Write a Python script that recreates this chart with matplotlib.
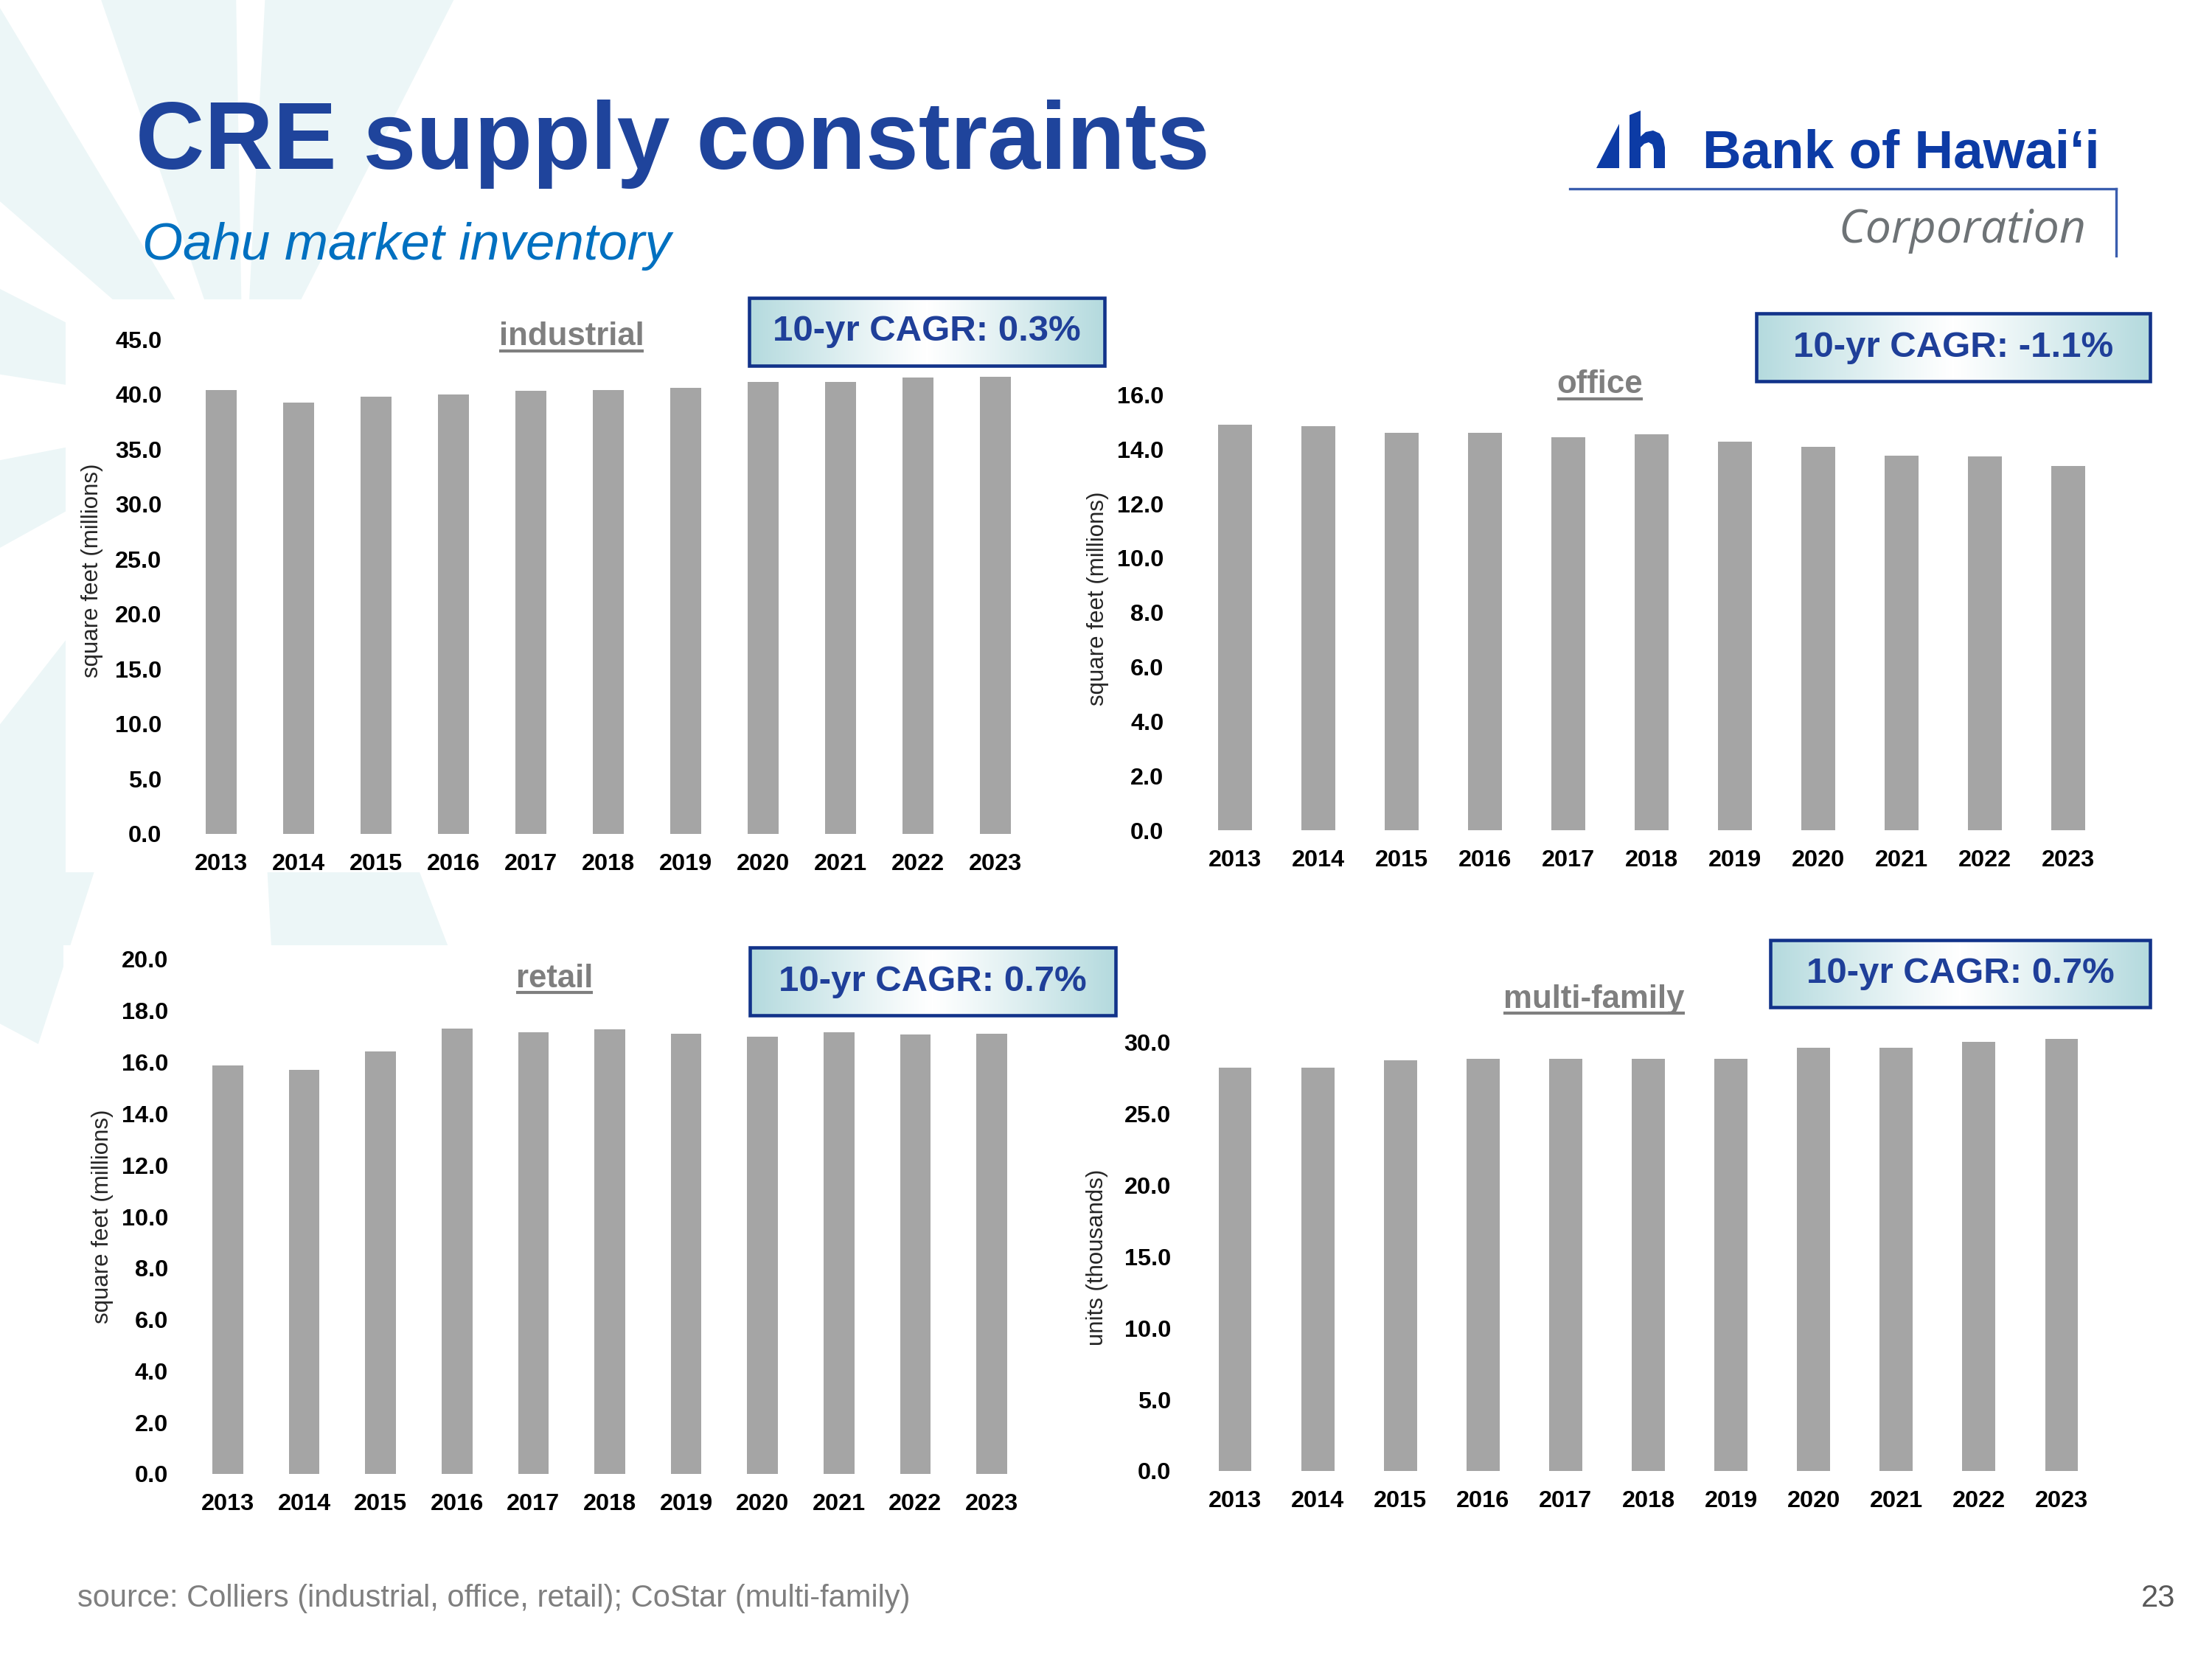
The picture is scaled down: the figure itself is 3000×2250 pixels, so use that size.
import numpy as np
import matplotlib
matplotlib.use('Agg')
import matplotlib.pyplot as plt
from matplotlib.patches import Polygon, Rectangle
from matplotlib.colors import LinearSegmentedColormap

plt.rcParams['font.family'] = ['Liberation Sans', 'DejaVu Sans']

# ---------------- data ----------------
years = [str(y) for y in range(2013, 2024)]
industrial = [40.4, 39.2, 39.8, 40.0, 40.3, 40.4, 40.6, 41.1, 41.1, 41.5, 41.6]
office = [14.9, 14.86, 14.6, 14.62, 14.44, 14.56, 14.27, 14.08, 13.78, 13.75, 13.39]
retail = [15.88, 15.7, 16.41, 17.3, 17.17, 17.27, 17.11, 16.99, 17.17, 17.08, 17.11]
multifamily = [28.24, 28.24, 28.75, 28.83, 28.86, 28.86, 28.86, 29.64, 29.64, 30.03, 30.26]
panel_titles = ['industrial', 'office', 'retail', 'multi-family']
cagr_labels = ['10-yr CAGR: 0.3%', '10-yr CAGR: -1.1%', '10-yr CAGR: 0.7%', '10-yr CAGR: 0.7%']
y_labels = ['square feet (millions)', 'square feet (millions)',
            'square feet (millions)', 'units (thousands)']
y_max = [45, 16, 20, 31]
y_step = [5, 2, 2, 5]
y_tick_max = [45, 16, 20, 30]
series = [industrial, office, retail, multifamily]

W, H = 3000, 2250
fig = plt.figure(figsize=(10, 7.5), dpi=300)
fig.patch.set_facecolor('white')


def fr(x0, y0, x1, y1):
    return [x0 / W, 1 - y1 / H, (x1 - x0) / W, (y1 - y0) / H]


# background / decoration axes in pixel coordinates
bg = fig.add_axes([0, 0, 1, 1])
bg.set_xlim(0, W)
bg.set_ylim(H, 0)
bg.axis('off')

# pale star watermark (top-left)
wm_col = '#ECF6F7'
cx, cy = 330, 560
for ang, d, R in [(75, 12, 700), (100, 9, 700), (130, 9, 900), (162, 9, 900),
                  (200, 9, 900), (-118, 10, 900), (-78, 9, 820)]:
    a1, a2 = np.radians(ang - d), np.radians(ang + d)
    pts = [(cx, cy), (cx + R * np.cos(a1), cy - R * np.sin(a1)),
           (cx + R * np.cos(a2), cy - R * np.sin(a2))]
    bg.add_patch(Polygon(pts, closed=True, fc=wm_col, ec='none', zorder=0))

# white chart panels
bg.add_patch(Rectangle((89, 406), 1411, 777, fc='white', ec='none', zorder=1))
bg.add_patch(Rectangle((86, 1282), 1420, 800, fc='white', ec='none', zorder=1))
bg.add_patch(Rectangle((1440, 400), 1520, 790, fc='white', ec='none', zorder=1))
bg.add_patch(Rectangle((1440, 1260), 1520, 820, fc='white', ec='none', zorder=1))

# titles
bg.text(184, 229, 'CRE supply constraints', fontsize=31, fontweight='bold',
        color='#1F449C', va='baseline', ha='left', zorder=3)
bg.text(193, 352, 'Oahu market inventory', fontsize=17, style='italic',
        color='#0070C0', va='baseline', ha='left', zorder=3)

# logo
logo_blue = '#0C3BA5'
bg.add_patch(Polygon([(2165, 228), (2196, 228), (2196, 168)], closed=True,
                     fc=logo_blue, ec='none', zorder=3))
bg.add_patch(Polygon([(2210, 228), (2225, 228), (2225, 150), (2210, 156)], closed=True,
                     fc=logo_blue, ec='none', zorder=3))
bg.add_patch(Polygon([(2224, 186), (2232, 179), (2242, 177), (2251, 181), (2256, 189),
                      (2258, 200), (2258, 228), (2243, 228), (2243, 203), (2241, 196),
                      (2236, 193), (2230, 195), (2224, 201)], closed=True,
                     fc=logo_blue, ec='none', zorder=3))
bg.text(2309, 227, 'Bank of Hawai\u2018i', fontsize=17.5, fontweight='bold',
        color=logo_blue, va='baseline', ha='left', zorder=3)
bg.plot([2129, 2870], [256, 256], color='#3A5DAE', lw=0.8, zorder=3)
bg.plot([2870, 2870], [256, 347], color='#3A5DAE', lw=0.8, zorder=3)
bg.text(2493, 329, 'Corporation', fontsize=15, color='#6E7376', va='baseline',
        ha='left', family=['Open Sans', 'DejaVu Sans'], style='italic', zorder=3)

# footer
bg.text(105, 2179, 'source: Colliers (industrial, office, retail); CoStar (multi-family)',
        fontsize=10, color='#7F7F7F', va='baseline', ha='left', zorder=3)
bg.text(2950, 2179, '23', fontsize=10, color='#595959', va='baseline', ha='right', zorder=3)

# chart axes geometry (pixels): left, top, right, bottom
axes_px = [
    (247.5, 460, 1402.5, 1131),
    (1618.5, 535.6, 2861.5, 1126),
    (257.2, 1301, 1396.8, 1999),
    (1619, 1995 - 31 * 19.38, 2852, 1995),
]
ylabel_px = [(125, 774), (1489, 812), (139, 1650), (1488, 1705)]
title_px = [(775, 468, 476), (2170, 533, 541), (752, 1339, 1346), (2162, 1367, 1374)]
box_px = [(1016, 404, 1498, 496), (2382, 425, 2916, 517),
          (1017, 1285, 1513, 1377), (2401, 1275, 2916, 1366)]
ypad = [6.7, 9.6, 7.0, 7.4]

grad_cmap = LinearSegmentedColormap.from_list('g', ['#FFFFFF', '#B4DADE'])

title_texts = []
for i in range(4):
    l, t, r, b = axes_px[i]
    ax = fig.add_axes(fr(l, t, r, b))
    ax.set_facecolor('none')
    x = np.arange(len(years))
    ax.bar(x, series[i], width=0.4, color='#A5A5A5', zorder=2)
    ax.set_xlim(-0.5, len(years) - 0.5)
    ax.set_ylim(0, y_max[i])
    yt = np.arange(0, y_tick_max[i] + 0.001, y_step[i])
    ax.set_yticks(yt)
    ax.set_yticklabels([f'{v:.1f}' for v in yt])
    ax.set_xticks(x)
    ax.set_xticklabels(years)
    for s in ax.spines.values():
        s.set_visible(False)
    ax.tick_params(axis='both', length=0, labelsize=7.8, colors='#000000')
    ax.tick_params(axis='y', pad=ypad[i])
    ax.tick_params(axis='x', pad=6.3)
    for lab in ax.get_xticklabels() + ax.get_yticklabels():
        lab.set_fontweight('bold')

    # y label
    bg.text(ylabel_px[i][0], ylabel_px[i][1], y_labels[i], rotation=90, fontsize=7.5,
            color='#262626', ha='center', va='center', zorder=3)

    # panel title
    tx, tb, tu = title_px[i]
    tt = bg.text(tx, tb, panel_titles[i], fontsize=10.5, fontweight='bold',
                 color='#7F7F7F', ha='center', va='baseline', zorder=3)
    title_texts.append((tt, tu))

    # CAGR box with gradient
    bx0, by0, bx1, by1 = box_px[i]
    bax = fig.add_axes(fr(bx0, by0, bx1, by1))
    g = np.abs(np.linspace(-1, 1, 256)) ** 1.1
    bax.imshow(g[None, :], aspect='auto', cmap=grad_cmap, extent=[0, 1, 0, 1],
               vmin=0, vmax=1)
    bax.set_xlim(0, 1)
    bax.set_ylim(0, 1)
    bax.set_axis_off()
    bax.add_patch(Rectangle((0, 0), 1, 1, transform=bax.transAxes, fill=False,
                            ec='#12338A', lw=1.1, clip_on=False))
    bax.text(0.5, 0.5, cagr_labels[i], transform=bax.transAxes, ha='center',
             va='center', fontsize=11.8, fontweight='bold', color='#1F3F99')

# underlines for panel titles
fig.canvas.draw()
renderer = fig.canvas.get_renderer()
inv = bg.transData.inverted()
for tt, uy in title_texts:
    bb = tt.get_window_extent(renderer)
    x0 = inv.transform((bb.x0, bb.y0))[0]
    x1 = inv.transform((bb.x1, bb.y0))[0]
    bg.plot([x0, x1], [uy, uy], color='#7F7F7F', lw=1.0, solid_capstyle='butt', zorder=3)

fig.savefig('out.png', dpi=300)
